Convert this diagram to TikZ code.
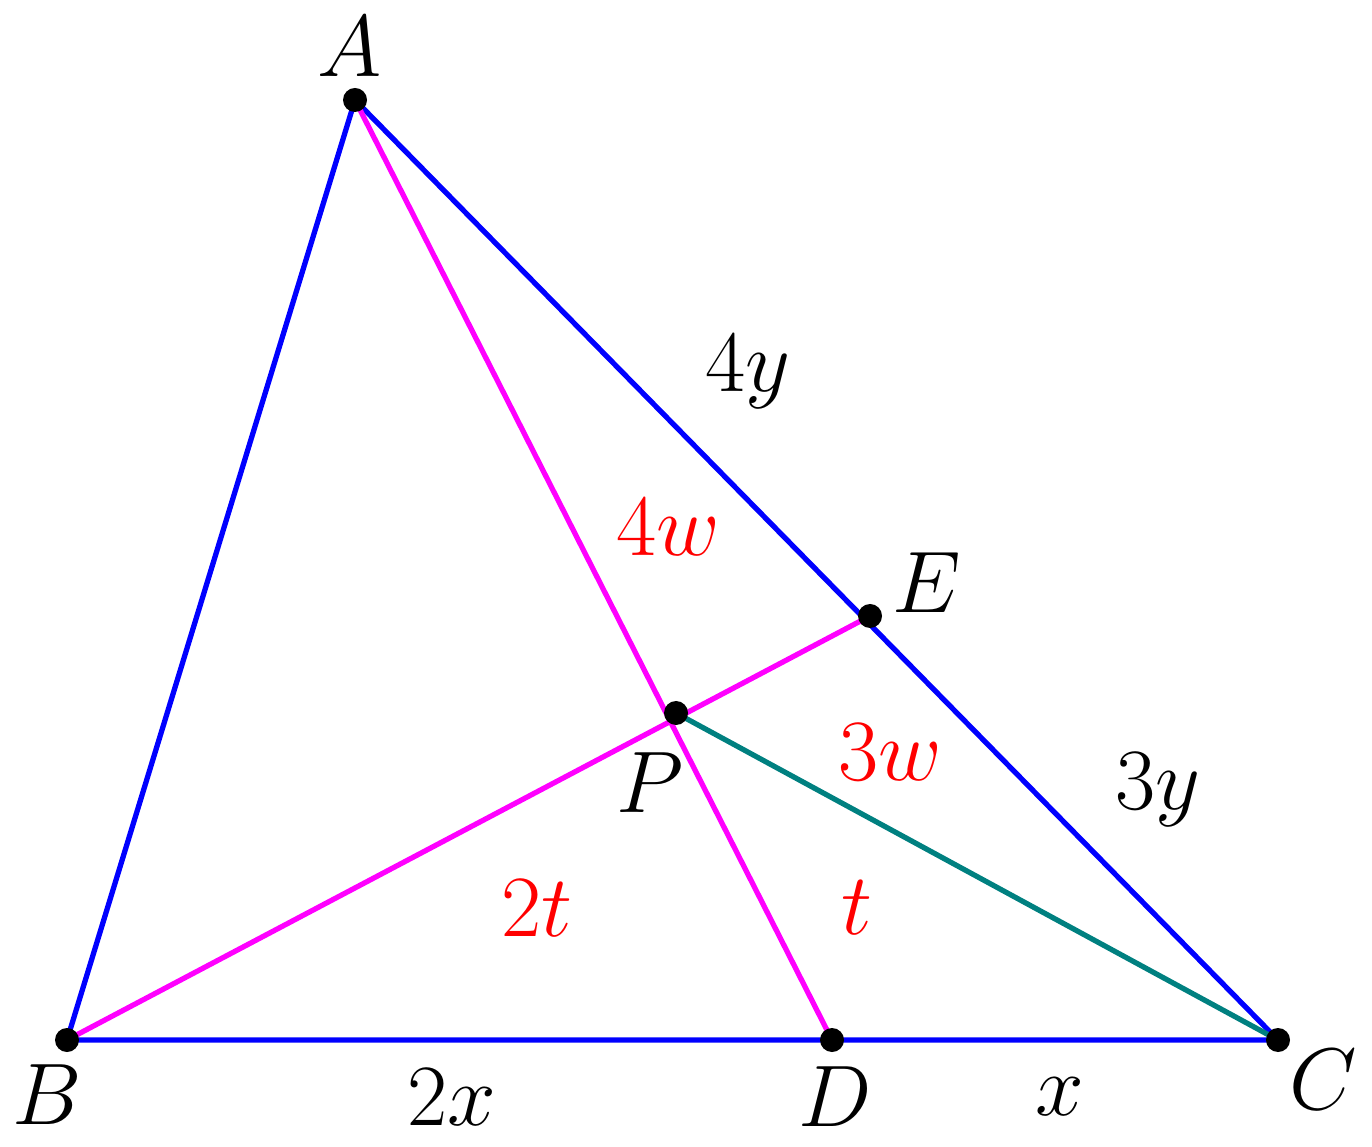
\documentclass[tikz,border=0pt]{standalone}
\usepackage{amsmath}
\definecolor{mag}{RGB}{255,0,255}
\definecolor{tl}{RGB}{0,128,128}
\begin{document}
\begin{tikzpicture}[
  side/.style={draw=blue, line width=1.5pt},
  ceva/.style={draw=mag, line width=1.5pt},
  tealline/.style={draw=tl, line width=1.5pt},
  dot/.style={circle, fill=black, inner sep=0pt, minimum size=0.24cm},
  lbl/.style={font=\fontsize{25}{28}\selectfont, inner sep=0pt},
  rlbl/.style={font=\fontsize{25}{28}\selectfont, text=red, inner sep=0pt}
]
\useasboundingbox (0,0) rectangle (13.72,11.46);
\coordinate (A) at (3.55,10.46);
\coordinate (B) at (0.67,1.06);
\coordinate (C) at (12.78,1.06);
\coordinate (D) at (8.32,1.06);
\coordinate (E) at (8.70,5.30);
\coordinate (P) at (6.76,4.33);

\draw[side] (B) -- (A) -- (C) -- (B);
\draw[ceva] (A) -- (D);
\draw[ceva] (B) -- (E);
\draw[tealline] (P) -- (C);

\foreach \p in {A,B,C,D,E,P} \node[dot] (d\p) at (\p) {};

\node[lbl] (lA) at (3.50,10.99) {$A$};
\node[lbl] (lB) at (0.47,0.51) {$B$};
\node[lbl] (lC) at (13.23,0.66) {$C$};
\node[lbl] (lD) at (8.35,0.49) {$D$};
\node[lbl] (lE) at (9.27,5.63) {$E$};
\node[lbl] (lP) at (6.50,3.63) {$P$};
\node[lbl] (l4y) at (7.48,7.74) {$4y$};
\node[lbl] (l3y) at (11.58,3.56) {$3y$};
\node[lbl] (l2x) at (4.52,0.49) {$2x$};
\node[lbl] (lx) at (10.60,0.49) {$x$};
\node[rlbl] (l4w) at (6.68,6.19) {$4w$};
\node[rlbl] (l3w) at (8.90,3.94) {$3w$};
\node[rlbl] (l2t) at (5.37,2.38) {$2t$};
\node[rlbl] (lt) at (8.57,2.38) {$t$};
\end{tikzpicture}
\end{document}
